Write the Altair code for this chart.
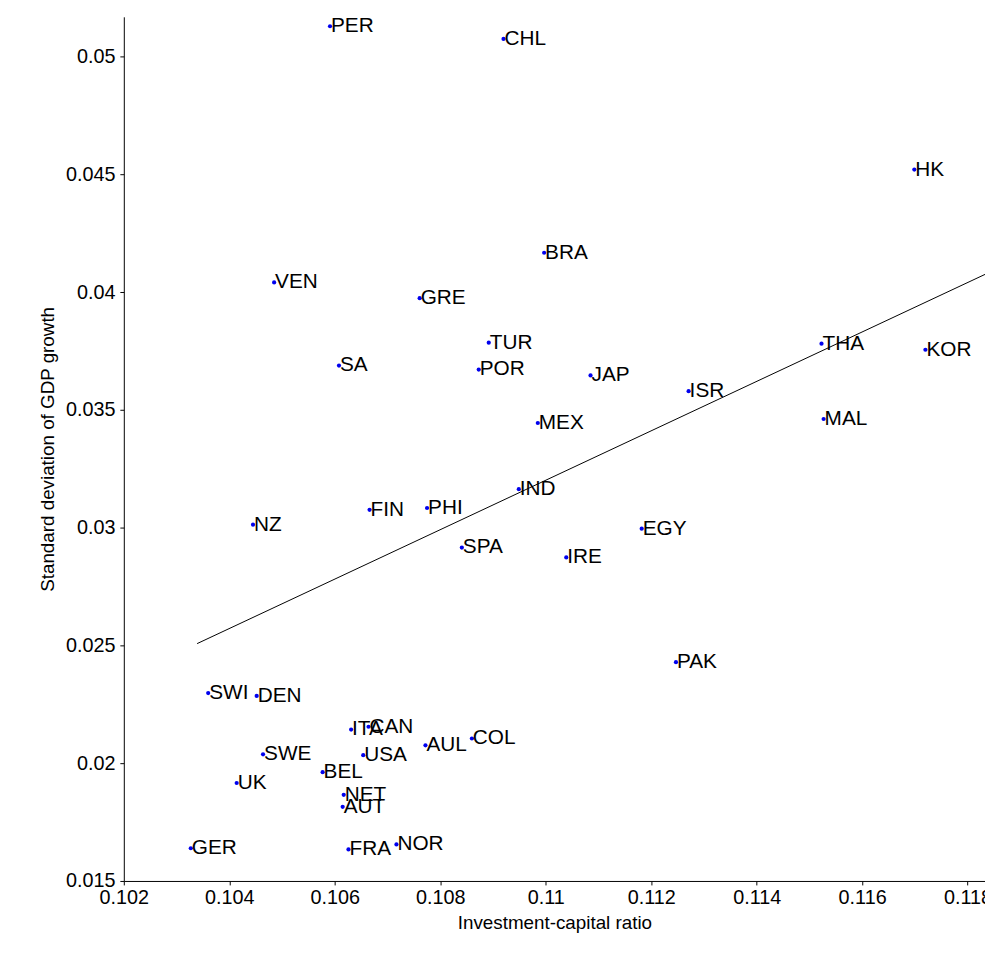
import altair as alt
import pandas as pd

countries = ["PER","CHL","HK","BRA","VEN","GRE","TUR","THA","KOR","SA","POR","JAP","ISR","MEX","MAL","IND","FIN","PHI","NZ","EGY","IRE","SPA","PAK","SWI","DEN","ITA","CAN","AUL","COL","SWE","USA","BEL","UK","NET","AUT","GER","FRA","NOR"]
inv = [0.10591,0.10920,0.11699,0.10997,0.10485,0.10761,0.10892,0.11523,0.11720,0.10608,0.10873,0.11085,0.11271,0.10985,0.11527,0.10949,0.10666,0.10775,0.10445,0.11182,0.11039,0.10841,0.11247,0.10360,0.10452,0.10631,0.10664,0.10772,0.10860,0.10464,0.10654,0.10577,0.10414,0.10617,0.10615,0.10327,0.10626,0.10717]
sd = [0.0513,0.05076,0.04521,0.04168,0.04042,0.03975,0.03786,0.03782,0.03756,0.03689,0.03672,0.03647,0.0358,0.03445,0.03462,0.03164,0.03076,0.03084,0.03013,0.02996,0.02874,0.02916,0.02429,0.02298,0.02286,0.02143,0.02155,0.02076,0.02105,0.02038,0.02034,0.01962,0.01916,0.01866,0.01815,0.01639,0.01634,0.01655]
fit_x = [0.10339, 0.11833]
fit_y = [0.02508, 0.04076]

df = pd.DataFrame({"c": countries, "x": inv, "y": sd})
fit = pd.DataFrame({"x": fit_x, "y": fit_y})

xs = alt.Scale(domain=[0.102, 0.11833], nice=False, zero=False)
ys = alt.Scale(domain=[0.015, 0.0517], nice=False, zero=False)
xax = alt.Axis(title="Investment-capital ratio", values=[0.102+0.002*i for i in range(9)], format=".3~f",
               labelFontSize=20, titleFontSize=19, tickSize=4, grid=False, labelPadding=3,
               titleFontWeight="normal", titlePadding=6, labelFlush=False, labelOverlap=False)
yax = alt.Axis(title="Standard deviation of GDP growth", values=[0.015+0.005*i for i in range(8)], format=".3~f",
               labelFontSize=20, titleFontSize=19, tickSize=4, grid=False, labelPadding=5,
               titleFontWeight="normal", titlePadding=8)

pts = alt.Chart(df).mark_circle(size=18, color="#0000ee", opacity=1).encode(
    x=alt.X("x:Q", scale=xs, axis=xax), y=alt.Y("y:Q", scale=ys, axis=yax))
lbl = alt.Chart(df).mark_text(align="left", dx=1, fontSize=21, font="Liberation Sans", color="black").encode(
    x="x:Q", y="y:Q", text="c:N")
line = alt.Chart(fit).mark_line(color="black", strokeWidth=1).encode(x="x:Q", y="y:Q")

chart = (line + pts + lbl).properties(
    width=870, height=873, autosize="none",
    padding={"left": 117, "top": 4, "right": 0, "bottom": 80}
).configure_view(stroke=None).configure_axis(
    domainColor="black", tickColor="black", labelColor="black", titleColor="black",
    labelFont="Liberation Sans", titleFont="Liberation Sans")

chart.save("out.html", embed_options={"renderer": "svg", "actions": False})
